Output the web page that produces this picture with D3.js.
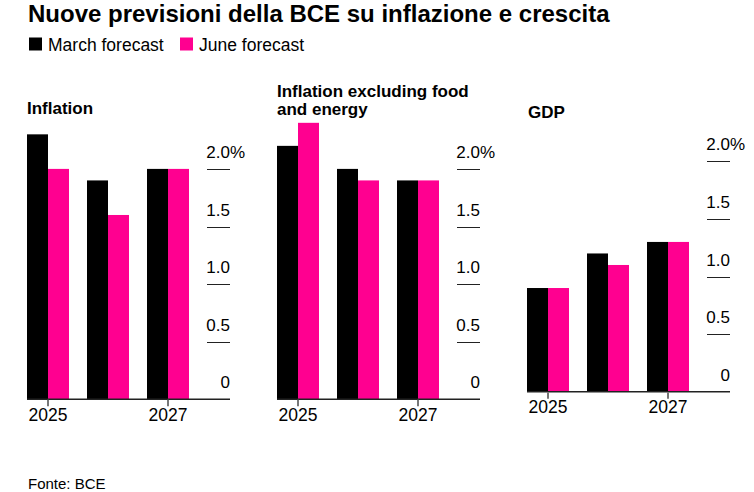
<!DOCTYPE html>
<html>
<head>
<meta charset="utf-8">
<script src="https://cdn.jsdelivr.net/npm/d3@7"></script>
<style>
  body { margin: 0; background: #fff; }
  text { font-family: "Liberation Sans", Arial, sans-serif; fill: #000; }
</style>
</head>
<body>
<div id="chart"></div>
<script>
// data
var years = ["2025", "2026", "2027"];
var yearLabels = ["2025", "2027"];
var seriesNames = ["March forecast", "June forecast"];
var panelTitles = [["Inflation"], ["Inflation excluding food", "and energy"], ["GDP"]];
var marchInflation = [2.3, 1.9, 2.0];
var juneInflation = [2.0, 1.6, 2.0];
var marchCore = [2.2, 2.0, 1.9];
var juneCore = [2.4, 1.9, 1.9];
var marchGdp = [0.9, 1.2, 1.3];
var juneGdp = [0.9, 1.1, 1.3];
var yTicks = [0, 0.5, 1.0, 1.5, 2.0];

var colors = ["#000000", "#ff0090"];
var width = 754, height = 492;

var svg = d3.select("#chart").append("svg")
    .attr("width", width)
    .attr("height", height);

svg.append("text")
    .attr("x", 28).attr("y", 22)
    .style("font-size", "24px").style("font-weight", "bold")
    .text("Nuove previsioni della BCE su inflazione e crescita");

// legend
var legendX = [29, 180];
seriesNames.forEach(function (name, i) {
    svg.append("rect")
        .attr("x", legendX[i]).attr("y", 37.5)
        .attr("width", 13).attr("height", 13)
        .attr("fill", colors[i]);
    svg.append("text")
        .attr("x", legendX[i] + 19).attr("y", 50.5)
        .style("font-size", "17.5px")
        .text(name);
});

var panels = [
    { march: marchInflation, june: juneInflation, base: 399.3, titleY: 114 },
    { march: marchCore, june: juneCore, base: 399.3, titleY: 97 },
    { march: marchGdp, june: juneGdp, base: 391.7, titleY: 117.5 }
];

var panelWidth = 203;
var x = d3.scaleBand().domain(years).range([0, 162]).paddingInner(0.3).paddingOuter(0);
var xSub = d3.scaleBand().domain(["march", "june"]).range([0, x.bandwidth()]);

panels.forEach(function (p, i) {
    var g = svg.append("g").attr("transform", "translate(" + (27 + i * 250) + ",0)");
    var y = d3.scaleLinear().domain([0, 2]).range([p.base, p.base - 230.4]);

    panelTitles[i].forEach(function (line, j) {
        g.append("text")
            .attr("x", i == 2 ? 1 : 0).attr("y", p.titleY + j * 18)
            .style("font-size", "17px").style("font-weight", "bold")
            .text(line);
    });

    // grid lines + labels on the right
    var grid = g.selectAll(".grid").data(yTicks.slice(1)).enter().append("g");
    grid.append("line")
        .attr("x1", 180).attr("x2", panelWidth)
        .attr("y1", function (d) { return Math.round(y(d)) + 0.5; })
        .attr("y2", function (d) { return Math.round(y(d)) + 0.5; })
        .attr("stroke", "#222").attr("stroke-width", 1);

    g.selectAll(".ylab").data(yTicks).enter().append("text")
        .attr("x", panelWidth)
        .attr("y", function (d) { return y(d) - 11; })
        .attr("text-anchor", "end")
        .style("font-size", "17px")
        .text(function (d) { return d == 0 ? "0" : d3.format(".1f")(d); });
    g.append("text")
        .attr("x", panelWidth).attr("y", y(2) - 11)
        .style("font-size", "17px")
        .text("%");

    var rows = years.map(function (yr, k) { return { year: yr, march: p.march[k], june: p.june[k] }; });
    var grp = g.selectAll(".grp").data(rows).enter().append("g")
        .attr("transform", function (d) { return "translate(" + x(d.year) + ",0)"; });
    grp.selectAll("rect")
        .data(function (d) { return [{ key: "march", v: d.march }, { key: "june", v: d.june }]; })
        .enter().append("rect")
        .attr("x", function (d) { return xSub(d.key); })
        .attr("width", xSub.bandwidth())
        .attr("y", function (d) { return y(d.v); })
        .attr("height", function (d) { return y(0) - y(d.v); })
        .attr("fill", function (d, k) { return colors[k]; });

    // baseline
    g.append("line")
        .attr("x1", 0).attr("x2", panelWidth)
        .attr("y1", y(0)).attr("y2", y(0))
        .attr("stroke", "#222").attr("stroke-width", 1.5);

    yearLabels.forEach(function (yr) {
        var cx = x(yr) + x.bandwidth() / 2;
        g.append("line")
            .attr("x1", cx).attr("x2", cx)
            .attr("y1", y(0) + 0.5).attr("y2", y(0) + 7)
            .attr("stroke", "#777").attr("stroke-width", 2);
        g.append("text")
            .attr("x", cx).attr("y", y(0) + 21.5)
            .attr("text-anchor", "middle")
            .style("font-size", "17.5px")
            .text(yr);
    });
});

svg.append("text")
    .attr("x", 28).attr("y", 489)
    .style("font-size", "15px")
    .text("Fonte: BCE");
</script>
</body>
</html>
